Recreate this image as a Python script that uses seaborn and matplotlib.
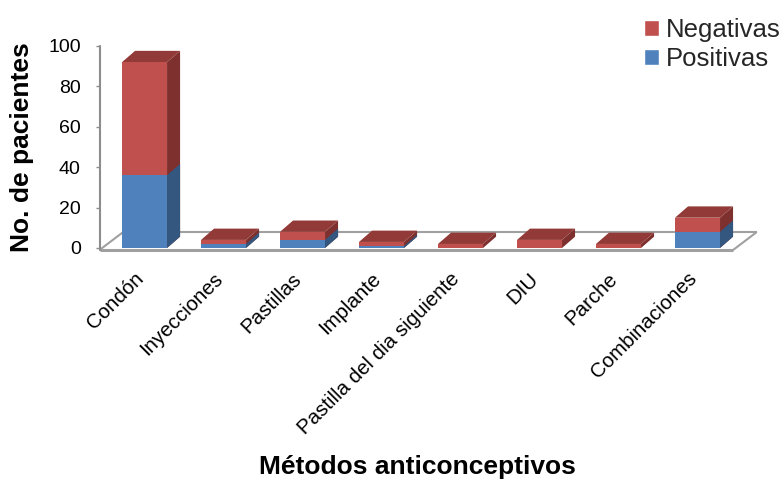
import matplotlib
matplotlib.use("Agg")
import matplotlib.pyplot as plt
from matplotlib.patches import Polygon, Patch
from matplotlib.transforms import ScaledTranslation
import pandas as pd
import seaborn as sns

# Data
categorias = ["Condón", "Inyecciones", "Pastillas", "Implante",
              "Pastilla del dia siguiente", "DIU", "Parche", "Combinaciones"]
positivas = [36, 2, 4, 1, 0, 0, 0, 8]
negativas = [56, 2, 4, 2, 2, 4, 2, 7]
y_ticks = [0, 20, 40, 60, 80, 100]

# Colours (front, side and top faces of the pseudo-3D columns)
RED, RED_SIDE, RED_TOP = "#C0504D", "#7E302E", "#923A37"
BLUE, BLUE_SIDE = "#4F81BD", "#34577F"
GRID = "#A0A0A0"

sns.set_theme(style="white")
plt.rcParams["font.family"] = ["Liberation Sans", "DejaVu Sans"]

df = pd.DataFrame({"metodo": categorias, "Positivas": positivas, "Negativas": negativas})
df["total"] = df["Positivas"] + df["Negativas"]

fig = plt.figure(figsize=(7.83, 4.79), dpi=100)
ax = fig.add_axes([99.5 / 783, 1 - 248 / 479, 661.2 / 783, 202 / 479])

# Stacked front faces: full totals in red, positives in blue on top of them
n0 = len(ax.patches)
sns.barplot(data=df, x="metodo", y="total", color=RED, saturation=1, width=0.57,
            linewidth=0, errorbar=None, ax=ax, zorder=3)
red_bars = ax.patches[n0:]
n1 = len(ax.patches)
sns.barplot(data=df, x="metodo", y="Positivas", color=BLUE, saturation=1, width=0.57,
            linewidth=0, errorbar=None, ax=ax, zorder=3)
blue_bars = ax.patches[n1:]

ax.set_xlim(-0.57, 7.8)
ax.set_ylim(0, 100)

# Depth of the columns (oblique projection)
DX, DY = 0.165, 5.6


def side_face(x, y0, y1, color, z):
    ax.add_patch(Polygon([(x, y0), (x + DX, y0 + DY), (x + DX, y1 + DY), (x, y1)],
                         closed=True, facecolor=color, edgecolor="none", zorder=z))


for r, b in zip(red_bars, blue_bars):
    x0 = r.get_x()
    x1 = x0 + r.get_width()
    top = r.get_height()
    side_face(x1, 0, top, RED_SIDE, 2.5)
    if b.get_height() > 0:
        side_face(x1, 0, b.get_height(), BLUE_SIDE, 2.6)
    ax.add_patch(Polygon([(x0, top), (x1, top), (x1 + DX, top + DY), (x0 + DX, top + DY)],
                         closed=True, facecolor=RED_TOP, edgecolor="none", zorder=2.7))

# Floor outline and value axis
xl, xr, yf = -0.57, 7.45, -1.0
FDX, FDY = 0.30, 8.9
floor_kw = dict(color=GRID, lw=1.5, clip_on=False, zorder=1, solid_capstyle="butt")
ax.plot([xl, xr], [yf, yf], **{**floor_kw, "lw": 2.2})
ax.plot([xl + FDX, xr + FDX], [yf + FDY, yf + FDY], **floor_kw)
ax.plot([xl, xl + FDX], [yf, yf + FDY], **floor_kw)
ax.plot([xr, xr + FDX], [yf, yf + FDY], **floor_kw)
ax.plot([xl, xl], [yf, 100], color="#8C8C8C", lw=1.5, clip_on=False, zorder=1)

for s in ax.spines.values():
    s.set_visible(False)

ax.set_yticks(y_ticks)
ax.tick_params(axis="y", left=True, length=3, width=1, color="#8C8C8C",
               pad=10.5, labelsize=14, labelcolor="black")
ax.tick_params(axis="x", bottom=False, length=0, pad=20, labelsize=14.8, labelcolor="black")
ax.set_xticks(range(len(categorias)))
ax.set_xticklabels(categorias, rotation=45, ha="right", va="center", rotation_mode="anchor")
shift = ScaledTranslation(-4 / 100, 0, fig.dpi_scale_trans)
for lab in ax.get_xticklabels():
    lab.set_transform(lab.get_transform() + shift)

ax.set_xlabel("Métodos anticonceptivos", fontsize=19, fontweight="bold", color="black")
ax.xaxis.label.set_va("center")
ax.xaxis.set_label_coords((417 - 99.5) / 661.2, (248 - 467) / 202)
ax.set_ylabel("No. de pacientes", fontsize=19, fontweight="bold", color="black")
ax.yaxis.set_label_coords((34 - 99.5) / 661.2, (248 - 147) / 202)

handles = [Patch(facecolor=RED, label="Negativas"), Patch(facecolor=BLUE, label="Positivas")]
fig.legend(handles=handles, loc="upper right", bbox_to_anchor=(781 / 783, 1 - 18 / 479),
           frameon=False, fontsize=18.5, handlelength=0.55, handleheight=0.55,
           handletextpad=0.3, labelspacing=0.2, borderpad=0, borderaxespad=0)

fig.savefig("out.png", dpi=100, facecolor="white")
